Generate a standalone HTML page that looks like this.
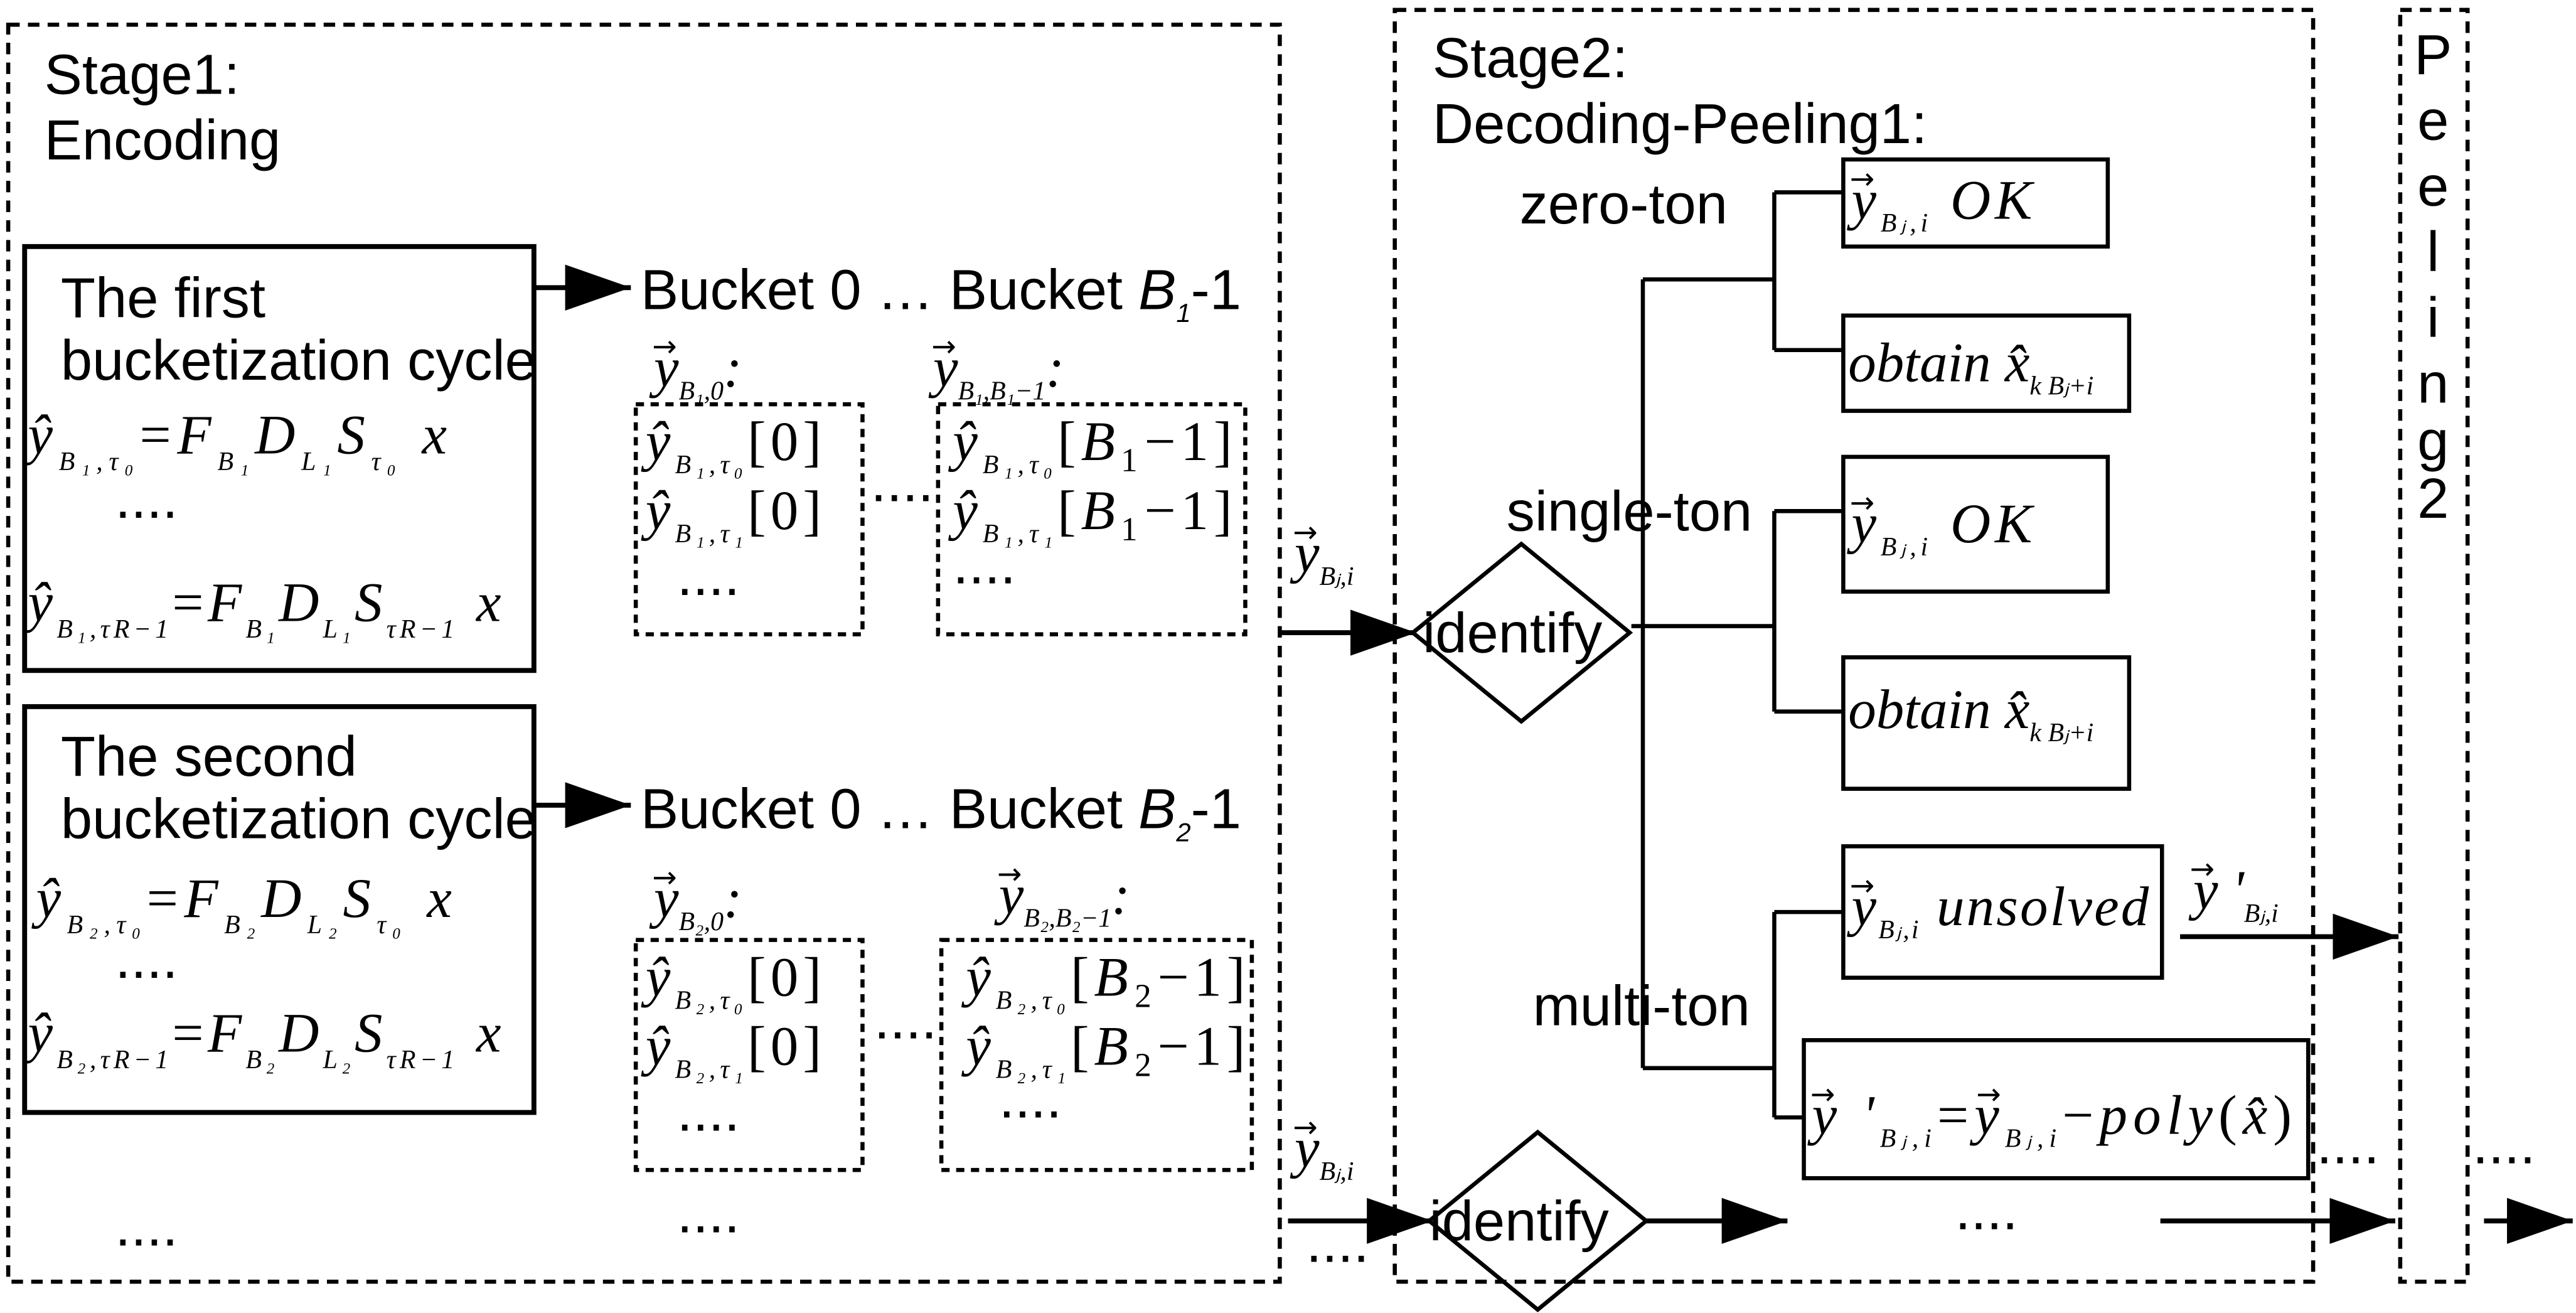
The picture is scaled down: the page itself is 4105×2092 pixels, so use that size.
<!DOCTYPE html>
<html><head><meta charset="utf-8"><style>
html,body{margin:0;padding:0;background:#fff}
svg{display:block}
.s{font-family:"Liberation Sans",sans-serif;font-size:34.5px}
.m{font-family:"Liberation Serif",serif;font-style:italic;font-size:34px}
.sub{font-size:16px}
.v{font-family:"DejaVu Sans",sans-serif;font-size:18px;font-style:normal}
.n{font-style:normal}
</style></head><body>
<svg width="4105" height="2092" viewBox="0 0 1568 799" xmlns="http://www.w3.org/2000/svg">
<defs><marker id="a" markerWidth="40" markerHeight="28" refX="40" refY="14" orient="auto" markerUnits="userSpaceOnUse" viewBox="0 0 40 28"><path d="M0,0 L40,14 L0,28z" fill="#000"/></marker></defs>
<g fill="none" stroke="#000" stroke-width="2.5">
<rect x="5" y="15" width="774" height="765" stroke-dasharray="7,5"/>
<rect x="849" y="6" width="559" height="774" stroke-dasharray="7,5"/>
<rect x="1461" y="6" width="41" height="774" stroke-dasharray="7,5"/>
<rect x="15" y="150" width="310" height="258" stroke-width="3"/>
<rect x="15" y="430" width="310" height="247" stroke-width="3"/>
<rect x="387" y="246" width="138" height="140" stroke-dasharray="5,4"/>
<rect x="571" y="246" width="187" height="140" stroke-dasharray="5,4"/>
<rect x="387" y="572" width="138" height="140" stroke-dasharray="5,4"/>
<rect x="573" y="572" width="189" height="140" stroke-dasharray="5,4"/>
<rect x="1122" y="97" width="161" height="53"/>
<rect x="1122" y="192" width="174" height="58"/>
<rect x="1122" y="278" width="161" height="82"/>
<rect x="1122" y="400" width="174" height="80"/>
<rect x="1122" y="515" width="194" height="80"/>
<rect x="1098" y="633" width="307" height="84"/>
<path d="M926,331 L992,385 L926,439 L860,385z"/>
<path d="M936,689 L1002,743 L936,797 L870,743z"/>
<path d="M993,381 H1080 M1000,170 V650 M1000,170 H1080 M1000,650 H1080 M1080,117 V213 M1080,311 V433 M1080,555 V680 M1080,117 H1122 M1080,213 H1122 M1080,311 H1122 M1080,433 H1122 M1080,555 H1122 M1080,680 H1098"/>
<g stroke-width="3">
<path d="M325,175 H384" marker-end="url(#a)"/>
<path d="M325,490 H384" marker-end="url(#a)"/>
<path d="M779,385 H862" marker-end="url(#a)"/>
<path d="M784,743 H872" marker-end="url(#a)"/>
<path d="M1002,743 H1088" marker-end="url(#a)"/>
<path d="M1327,570 H1460" marker-end="url(#a)"/>
<path d="M1315,743 H1458" marker-end="url(#a)"/>
<path d="M1512,743 H1566" marker-end="url(#a)"/>
</g>
</g>
<g class="s">
<text x="27" y="57">Stage1:</text><text x="27" y="97">Encoding</text>
<text x="872" y="47">Stage2:</text><text x="872" y="87">Decoding-Peeling1:</text>
<text x="37" y="193">The first</text><text x="37" y="231">bucketization cycle</text>
<text x="37" y="472">The second</text><text x="37" y="510">bucketization cycle</text>
<text x="390" y="188">Bucket 0 … Bucket <tspan font-style="italic">B</tspan><tspan class="sub" font-style="italic" dy="8">1</tspan><tspan dy="-8">-1</tspan></text>
<text x="390" y="504">Bucket 0 … Bucket <tspan font-style="italic">B</tspan><tspan class="sub" font-style="italic" dy="8">2</tspan><tspan dy="-8">-1</tspan></text>
<text x="925" y="136">zero-ton</text><text x="917" y="323">single-ton</text><text x="933" y="624">multi-ton</text>
<text x="866" y="397">identify</text><text x="870" y="755">identify</text>
<text x="70" y="315">....</text><text x="70" y="595">....</text><text x="70" y="758">....</text><text x="412" y="750">....</text>
<text x="530" y="305">....</text><text x="532" y="632">....</text>
<text x="795" y="768">....</text><text x="1190" y="748">....</text><text x="1410" y="708">....</text><text x="1505" y="708">....</text>
<text x="412" y="362">....</text><text x="580" y="355">....</text><text x="412" y="688">....</text><text x="608" y="680">....</text>
<g text-anchor="middle"><text x="1481" y="45">P</text><text x="1481" y="85">e</text><text x="1481" y="125">e</text><text x="1481" y="165">l</text><text x="1481" y="205">i</text><text x="1481" y="245">n</text><text x="1481" y="280">g</text><text x="1481" y="315">2</text></g>
</g>
<g class="m">
<text x="17" y="276" textLength="255" lengthAdjust="spacing">ŷ<tspan class="sub" dy="10">B₁,τ₀</tspan><tspan dy="-10" class="n">=</tspan>F<tspan class="sub" dy="10">B₁</tspan><tspan dy="-10">D</tspan><tspan class="sub" dy="10">L₁</tspan><tspan dy="-10">S</tspan><tspan class="sub" dy="10">τ₀</tspan><tspan dy="-10"> x</tspan></text>
<text x="17" y="378" textLength="288" lengthAdjust="spacing">ŷ<tspan class="sub" dy="10">B₁,τR−1</tspan><tspan dy="-10" class="n">=</tspan>F<tspan class="sub" dy="10">B₁</tspan><tspan dy="-10">D</tspan><tspan class="sub" dy="10">L₁</tspan><tspan dy="-10">S</tspan><tspan class="sub" dy="10">τR−1</tspan><tspan dy="-10"> x</tspan></text>
<text x="22" y="558" textLength="253" lengthAdjust="spacing">ŷ<tspan class="sub" dy="10">B₂,τ₀</tspan><tspan dy="-10" class="n">=</tspan>F<tspan class="sub" dy="10">B₂</tspan><tspan dy="-10">D</tspan><tspan class="sub" dy="10">L₂</tspan><tspan dy="-10">S</tspan><tspan class="sub" dy="10">τ₀</tspan><tspan dy="-10"> x</tspan></text>
<text x="17" y="640" textLength="288" lengthAdjust="spacing">ŷ<tspan class="sub" dy="10">B₂,τR−1</tspan><tspan dy="-10" class="n">=</tspan>F<tspan class="sub" dy="10">B₂</tspan><tspan dy="-10">D</tspan><tspan class="sub" dy="10">L₂</tspan><tspan dy="-10">S</tspan><tspan class="sub" dy="10">τR−1</tspan><tspan dy="-10"> x</tspan></text>
<text x="398" y="235">y<tspan class="sub" dy="8">B₁,0</tspan><tspan dy="-8">:</tspan></text>
<text x="568" y="235">y<tspan class="sub" dy="8">B₁,B₁−1</tspan><tspan dy="-8">:</tspan></text>
<text x="398" y="558">y<tspan class="sub" dy="8">B₂,0</tspan><tspan dy="-8">:</tspan></text>
<text x="608" y="556">y<tspan class="sub" dy="8">B₂,B₂−1</tspan><tspan dy="-8">:</tspan></text>
<text x="393" y="280" textLength="107" lengthAdjust="spacing">ŷ<tspan class="sub" dy="8">B₁,τ₀</tspan><tspan dy="-8" class="n">[0]</tspan></text>
<text x="393" y="322" textLength="107" lengthAdjust="spacing">ŷ<tspan class="sub" dy="8">B₁,τ₁</tspan><tspan dy="-8" class="n">[0]</tspan></text>
<text x="580" y="280" textLength="170" lengthAdjust="spacing">ŷ<tspan class="sub" dy="8">B₁,τ₀</tspan><tspan dy="-8" class="n">[</tspan>B<tspan class="n">₁−1]</tspan></text>
<text x="580" y="322" textLength="170" lengthAdjust="spacing">ŷ<tspan class="sub" dy="8">B₁,τ₁</tspan><tspan dy="-8" class="n">[</tspan>B<tspan class="n">₁−1]</tspan></text>
<text x="393" y="606" textLength="107" lengthAdjust="spacing">ŷ<tspan class="sub" dy="8">B₂,τ₀</tspan><tspan dy="-8" class="n">[0]</tspan></text>
<text x="393" y="648" textLength="107" lengthAdjust="spacing">ŷ<tspan class="sub" dy="8">B₂,τ₁</tspan><tspan dy="-8" class="n">[0]</tspan></text>
<text x="588" y="606" textLength="170" lengthAdjust="spacing">ŷ<tspan class="sub" dy="8">B₂,τ₀</tspan><tspan dy="-8" class="n">[</tspan>B<tspan class="n">₂−1]</tspan></text>
<text x="588" y="648" textLength="170" lengthAdjust="spacing">ŷ<tspan class="sub" dy="8">B₂,τ₁</tspan><tspan dy="-8" class="n">[</tspan>B<tspan class="n">₂−1]</tspan></text>
<text x="788" y="348">y<tspan class="sub" dy="8">Bⱼ,i</tspan></text>
<text x="788" y="710">y<tspan class="sub" dy="8">Bⱼ,i</tspan></text>
<text x="1127" y="133" textLength="110" lengthAdjust="spacing">y<tspan class="sub" dy="8">Bⱼ,i</tspan><tspan dy="-8"> OK</tspan></text>
<text x="1127" y="330" textLength="110" lengthAdjust="spacing">y<tspan class="sub" dy="8">Bⱼ,i</tspan><tspan dy="-8"> OK</tspan></text>
<text x="1125" y="232">obtain x̂<tspan class="sub" dy="8">k Bⱼ+i</tspan></text>
<text x="1125" y="443">obtain x̂<tspan class="sub" dy="8">k Bⱼ+i</tspan></text>
<text x="1127" y="563" textLength="181" lengthAdjust="spacing">y<tspan class="sub" dy="8">Bⱼ,i</tspan><tspan dy="-8"> unsolved</tspan></text>
<text x="1335" y="553">y '<tspan class="sub" dy="8">Bⱼ,i</tspan></text>
<text x="1103" y="690" textLength="292" lengthAdjust="spacing">y '<tspan class="sub" dy="8">Bⱼ,i</tspan><tspan dy="-8" class="n">=</tspan>y<tspan class="sub" dy="8">Bⱼ,i</tspan><tspan dy="-8" class="n">−</tspan>poly<tspan class="n">(</tspan>x̂<tspan class="n">)</tspan></text>
</g>
<g class="v">
<text x="397" y="217">→</text><text x="567" y="217">→</text><text x="397" y="540">→</text><text x="607" y="538">→</text>
<text x="787" y="330">→</text><text x="787" y="692">→</text><text x="1126" y="115">→</text><text x="1126" y="312">→</text>
<text x="1126" y="545">→</text><text x="1333" y="535">→</text><text x="1102" y="672">→</text><text x="1203" y="672">→</text>
</g>
</svg>
</body></html>
